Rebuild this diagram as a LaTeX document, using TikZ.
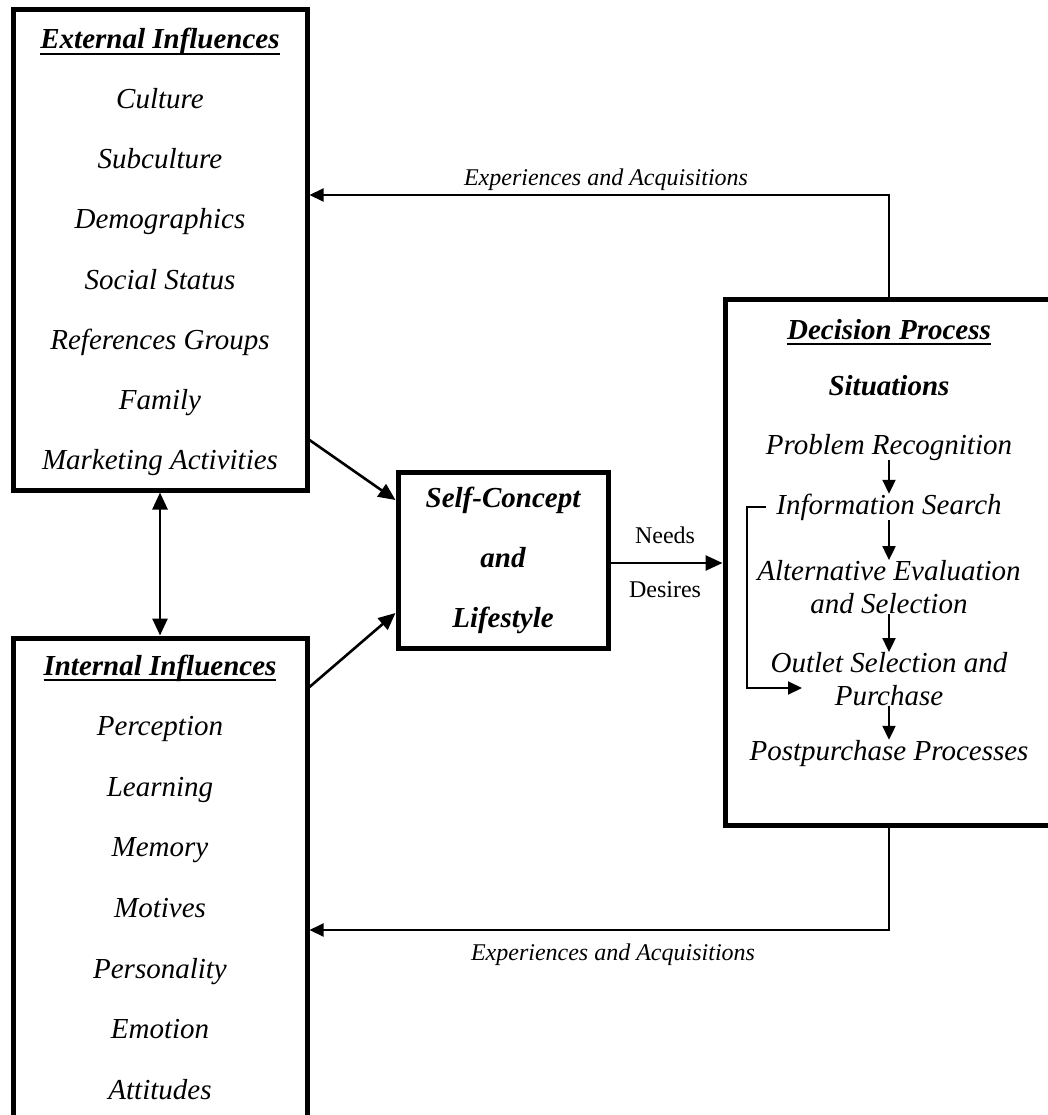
\documentclass[tikz,border=0pt]{standalone}
\usepackage{fontspec}
\setmainfont{Liberation Serif}
\usetikzlibrary{arrows.meta}
\newcommand{\ulhead}[1]{\setbox0=\hbox{#1}\rlap{\rule[-6pt]{\wd0}{2.4pt}}\box0}

\begin{document}
\begin{tikzpicture}[x=1pt,y=-1pt,>={Triangle[length=14pt,width=13pt]},
    box/.style={draw,line width=5pt,inner sep=0pt},
    item/.style={font=\fontsize{29}{33}\selectfont\itshape,inner sep=0pt,align=center},
    line/.style={item,text height=20pt,text depth=6pt},
    head/.style={font=\fontsize{29}{33}\selectfont\bfseries\itshape,inner sep=0pt,
        text height=20pt,text depth=6pt},
    note/.style={font=\fontsize{24}{28}\selectfont,inner sep=0pt},
    link/.style={-{Triangle[length=17pt,width=15pt]},line width=2.6pt},
    step link/.style={->,line width=2pt}]
    \useasboundingbox (0,0) rectangle (1048,1115);
    % boxes
    \node[box,minimum width=294pt,minimum height=480pt] (ext) at (160,250) {};
    \node[box,minimum width=294pt,minimum height=492pt] (int) at (160,884) {};
    \node[box,minimum width=210pt,minimum height=176pt,
        font=\fontsize{29}{60}\selectfont\bfseries\itshape,align=center] (self) at (503,560)
        {Self-Concept\\and\\Lifestyle};
    \node[box,minimum width=328pt,minimum height=526pt] (dec) at (889,562) {};
    % external influences
    \node[head] (exthead) at (160,42) {\ulhead{External Influences}};
    \foreach \t [count=\i] in {Culture,Subculture,Demographics,Social Status,
            References Groups,Family,Marketing Activities}
        \node[line] (ext\i) at (160,{42+60*\i}) {\t};
    % internal influences
    \node[head] (inthead) at (160,668) {\ulhead{Internal Influences}};
    \foreach \t [count=\i] in {Perception,Learning,Memory,Motives,Personality,
            Emotion,Attitudes}
        \node[line] (int\i) at (160,{668+60.6*\i}) {\t};
    % decision process
    \node[head] (dechead) at (889,332) {\ulhead{Decision Process}};
    \node[head] (situ) at (889,388) {Situations};
    \node[line] (prob) at (889,447) {Problem Recognition};
    \node[line] (info) at (889,507) {Information Search};
    \node[item] (alt) at (889,587) {Alternative Evaluation\\and Selection};
    \node[item] (outlet) at (889,679) {Outlet Selection and\\Purchase};
    \node[line] (post) at (889,753) {Postpurchase Processes};
    \draw[step link] (prob.south) -- (info.north);
    \draw[step link] (info.south) -- (alt.north);
    \draw[step link] (alt.south) -- (outlet.north);
    \draw[step link] (outlet.south) -- (post.north);
    \coordinate (loopend) at (802,688);
    \draw[step link] ([xshift=-10pt]info.west) -- ++(-19,0) |- (loopend);
    % connectors
    \draw[link] (ext.east |- 0,440) -- (self.west |- 0,500);
    \draw[link] (int.east |- 0,687) -- (self.west |- 0,613);
    \draw[link,{Triangle[length=17pt,width=15pt]}-{Triangle[length=17pt,width=15pt]}]
        (ext.south) -- (int.north);
    \draw[link] (self.east |- 0,563) -- (dec.west |- 0,563);
    \node[note] (needs) at (665,535) {Needs};
    \node[note] (desires) at (665,590) {Desires};
    \draw[step link] (dec.north) |- (ext.east |- 0,195);
    \draw[step link] (dec.south) |- (int.east |- 0,930);
    \node[note,font=\fontsize{24}{28}\selectfont\itshape] (exptop) at (606,180)
        {Experiences and Acquisitions};
    \node[note,font=\fontsize{24}{28}\selectfont\itshape] (expbot) at (613,955)
        {Experiences and Acquisitions};
\end{tikzpicture}
\end{document}
